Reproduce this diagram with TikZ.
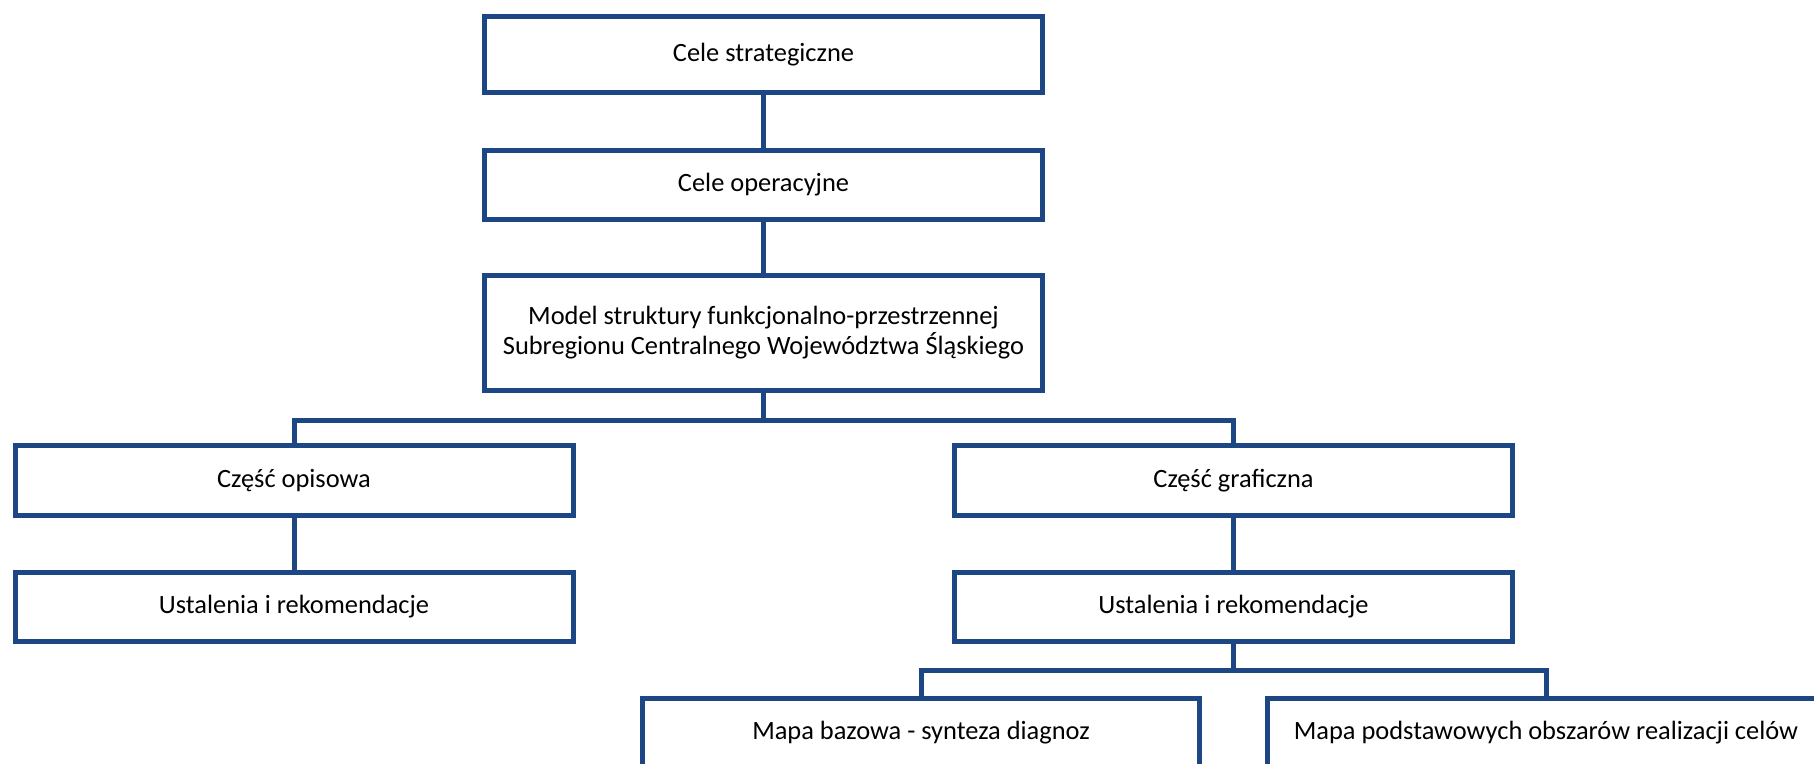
\documentclass[tikz,border=0pt]{standalone}
\usepackage{fontspec}
\setmainfont{Carlito}
\definecolor{boxblue}{RGB}{28,71,132}
\begin{document}
\begin{tikzpicture}[x=0.5pt,y=-0.5pt,
  box/.style={draw=boxblue,line width=2.5pt,fill=white,rectangle,inner sep=0pt,outer sep=0pt,
    minimum width=279pt,align=center,font=\fontsize{13.2pt}{15pt}\selectfont},
  conn/.style={draw=boxblue,line width=2.5pt}]
\useasboundingbox (0,0) rectangle (1814,764);
\node[box,minimum height=38pt] (top) at (763.5,54.5) {Cele strategiczne};
\node[box,minimum height=34.5pt] (op) at (763.5,185) {Cele operacyjne};
\node[box,minimum height=57.5pt] (model) at (763.5,333) {Model struktury funkcjonalno-przestrzennej\\Subregionu Centralnego Województwa Śląskiego};
\node[box,minimum height=35pt] (opis) at (294,480.5) {Część opisowa};
\node[box,minimum height=34.5pt] (ustl) at (294,607) {Ustalenia i rekomendacje};
\node[box,minimum height=35pt] (graf) at (1233.5,480.5) {Część graficzna};
\node[box,minimum height=34.5pt] (ustr) at (1233.5,607) {Ustalenia i rekomendacje};
\node[box,minimum height=34.5pt,minimum width=278.5pt] (baza) at (921,733) {Mapa bazowa - synteza diagnoz};
\node[box,minimum height=34.5pt,minimum width=278.5pt] (cele) at (1546,733) {Mapa podstawowych obszarów realizacji celów};
\coordinate (j1) at (763.5,420);
\coordinate (j2) at (1233.5,670);
\draw[conn] (top.south) -- (op.north);
\draw[conn] (op.south) -- (model.north);
\draw[conn] (model.south) -- (j1);
\draw[conn] (opis.north) |- (j1) -| (graf.north);
\draw[conn] (opis.south) -- (ustl.north);
\draw[conn] (graf.south) -- (ustr.north);
\draw[conn] (ustr.south) -- (j2);
\draw[conn] (baza.north) |- (j2) -| (cele.north);
\end{tikzpicture}
\end{document}
